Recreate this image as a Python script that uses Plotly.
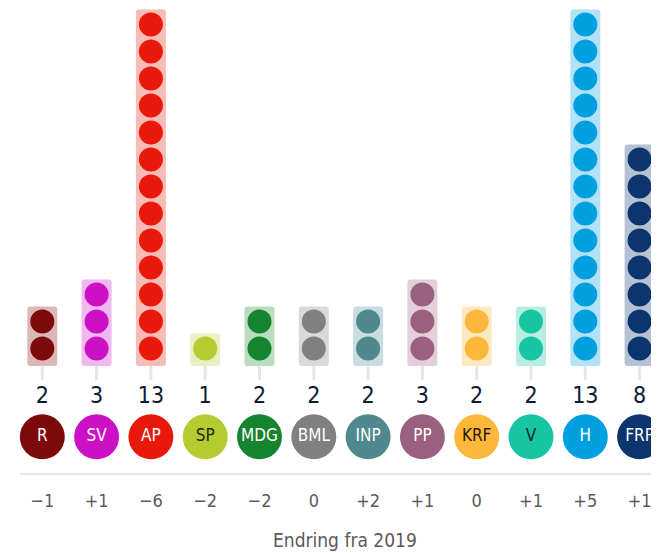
import plotly.graph_objects as go

parties = ["R", "SV", "AP", "SP", "MDG", "BML", "INP", "PP", "KRF", "V", "H", "FRP"]
seats = [2, 3, 13, 1, 2, 2, 2, 3, 2, 2, 13, 8]
change = ["\u22121", "+1", "\u22126", "\u22122", "\u22122", "0", "+2", "+1", "0", "+1", "+5", "+1"]
dot_colors = ["#7d0a0a", "#cc10c6", "#e8190b", "#b5cb2f", "#16832f", "#808080",
              "#4f888e", "#9b607f", "#fdb73a", "#16c5a2", "#009fe0", "#0d356d"]
bg_colors = ["#dcb7b7", "#f0b8ee", "#f8bcb6", "#e9f1c2", "#badcc0", "#d9d9d9",
             "#c9dde0", "#e2cfd9", "#fee8c2", "#b9ede1", "#b3e2f6", "#b5c2d3"]
label_text_colors = ["white", "white", "white", "#1a2a10", "white", "white",
                     "white", "white", "#2a1a00", "#0a2a20", "white", "white"]
subtitle = "Endring fra 2019"

FONT = "Liberation Sans Narrow, DejaVu Sans Condensed, Roboto Condensed, Roboto, sans-serif"

# page has an 8px body margin; compensate so the drawing lands where the reference has it
OFF = 8
W, H = 659 - OFF, 553 - OFF
PX_X = 54.3
PX_Y = 27.0
X0 = 42.3 - OFF
Y0 = 348.5 - OFF

x_idx = list(range(len(parties)))

fig = go.Figure()

# background bars
fig.add_trace(go.Bar(
    x=x_idx, y=[n + 0.204 for n in seats], base=-0.648,
    width=30 / PX_X, marker=dict(color=bg_colors, line=dict(width=0)),
    hoverinfo="skip", showlegend=False))

# stems
fig.add_trace(go.Bar(
    x=x_idx, y=[0.52] * len(parties), base=-1.17,
    width=3 / PX_X, marker=dict(color="#e9e5e7", line=dict(width=0)),
    hoverinfo="skip", showlegend=False))

# dots
dx, dy, dc = [], [], []
for i, n in enumerate(seats):
    for k in range(n):
        dx.append(i)
        dy.append(k)
        dc.append(dot_colors[i])
fig.add_trace(go.Scatter(
    x=dx, y=dy, mode="markers",
    marker=dict(size=24, color=dc, line=dict(width=0)),
    hoverinfo="skip", showlegend=False))

# seat counts
fig.add_trace(go.Scatter(
    x=x_idx, y=[-1.80] * len(parties), mode="text",
    text=[str(n) for n in seats],
    textfont=dict(family=FONT, size=23, color="#0e1a33"),
    hoverinfo="skip", showlegend=False))

# party circles
fig.add_trace(go.Scatter(
    x=x_idx, y=[-3.27] * len(parties), mode="markers+text",
    marker=dict(size=45, color=dot_colors, line=dict(width=0)),
    text=parties, textposition="middle center",
    textfont=dict(family=FONT, size=17, color=label_text_colors),
    hoverinfo="skip", showlegend=False))

# change values
fig.add_trace(go.Scatter(
    x=x_idx, y=[-5.71] * len(parties), mode="text",
    text=change,
    textfont=dict(family=FONT, size=18, color="#5a5a5a"),
    hoverinfo="skip", showlegend=False))

fig.add_shape(type="line", xref="paper", yref="y",
              x0=(20 - OFF) / W, x1=1, y0=-4.65, y1=-4.65,
              line=dict(color="#ebe6e8", width=2))

fig.add_annotation(text=subtitle, xref="paper", yref="y",
                   x=(345 - OFF) / W, y=-7.09, showarrow=False,
                   xanchor="center", yanchor="middle",
                   font=dict(family=FONT, size=19, color="#5a5a5a"))

n_last = len(parties) - 1
fig.update_layout(
    width=W, height=H,
    margin=dict(l=0, r=0, t=0, b=0),
    paper_bgcolor="white", plot_bgcolor="white",
    barmode="overlay", barcornerradius=3,
    xaxis=dict(range=[-X0 / PX_X, n_last + (W - X0 - n_last * PX_X) / PX_X],
               visible=False, fixedrange=True),
    yaxis=dict(range=[-(H - Y0) / PX_Y, Y0 / PX_Y], visible=False, fixedrange=True),
    showlegend=False,
)

fig.write_html("out.html")
